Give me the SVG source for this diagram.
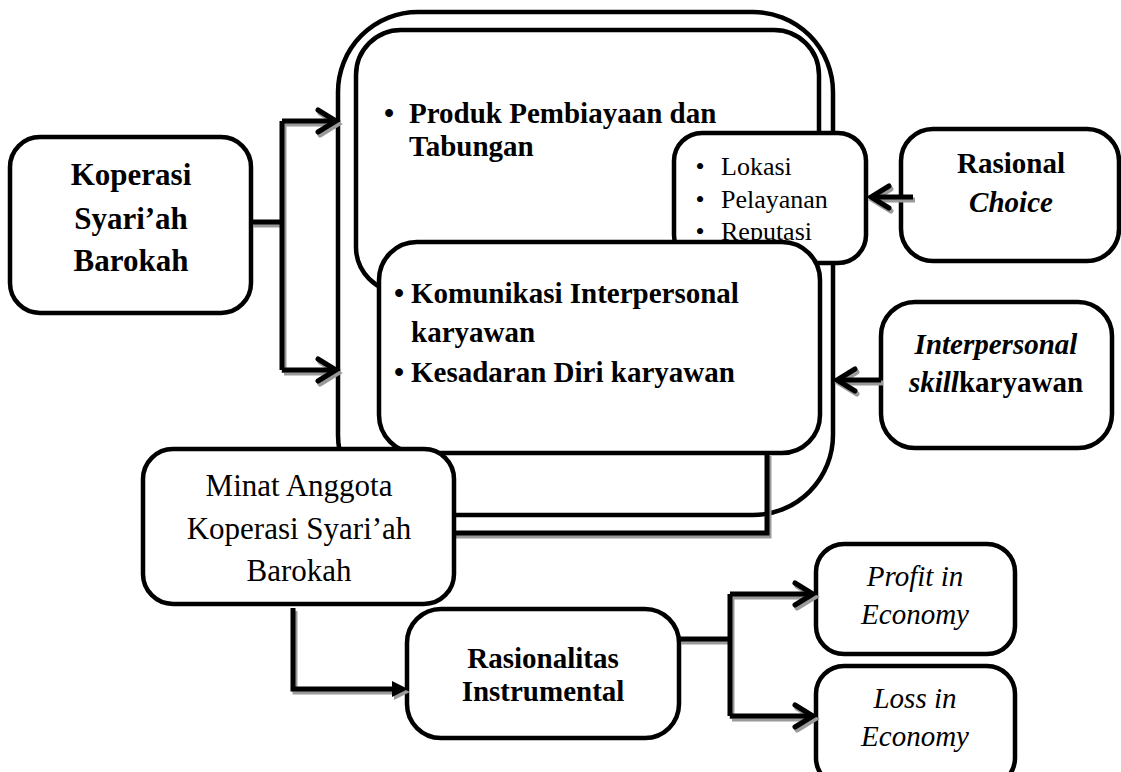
<svg xmlns="http://www.w3.org/2000/svg" xmlns:xlink="http://www.w3.org/1999/xlink" width="1121" height="772" viewBox="0 0 1121 772">
<style>
.box{fill:#fff;stroke:#000;stroke-width:4.5}
.t{font-family:"Liberation Serif","Times New Roman",serif;fill:#000}
.b{font-weight:bold}
.i{font-style:italic}
.c{text-anchor:middle}
.s29{font-size:29px}
.s31{font-size:31px}
.s26{font-size:26px}
.ln{fill:none;stroke-width:5;stroke-linejoin:miter;stroke-linecap:butt}
.hd{fill:none;stroke-width:5;stroke-linejoin:miter;stroke-linecap:round}
</style>
<defs>
<g id="conn-shape">
<path class="ln" d="M251,222 H282 M282,121 V370 M282,121 H334 M282,370 H334"/>
<path class="hd" d="M318,110 L336,121 L318,132 M318,359 L336,370 L318,381"/>
<path class="ln" d="M913,197 H874"/>
<path class="hd" d="M889,186 L871,197 L889,208"/>
<path class="ln" d="M881,380 H840"/>
<path class="hd" d="M855,369 L837,380 L855,391"/>
<path class="ln" d="M293,608 V689 H395"/>
<path d="M392,681 L408,689 L392,697 Z" fill="currentColor" stroke="none"/>
<path class="ln" d="M679,639 H730 M730,594 V716 M730,594 H810 M730,716 H810"/>
<path class="hd" d="M795,583 L813,594 L795,605 M795,705 L813,716 L795,727"/>
</g>
</defs>

<g id="outer-frame">
<rect class="box" x="338" y="12" width="495" height="503" rx="80" ry="80"/>
</g>
<g id="frame-line">
<path class="ln" d="M769,456 V536 H454" stroke="#9a9a9a"/>
<path class="ln" d="M767,453 V533 H454" stroke="#000"/>
</g>
<g id="produk">
<rect class="box" x="356" y="30" width="463" height="262" rx="45" ry="45"/>
<text class="t b s29 c" x="389" y="123">•</text>
<text class="t b s29" x="409" y="123">Produk Pembiayaan dan</text>
<text class="t b s29" x="409" y="156">Tabungan</text>
</g>
<g id="lokasi">
<rect class="box" x="674" y="133" width="192" height="130" rx="28" ry="28"/>
<text class="t s26 c" x="700" y="175">•</text>
<text class="t s26" x="721" y="175">Lokasi</text>
<text class="t s26 c" x="700" y="208">•</text>
<text class="t s26" x="721" y="208">Pelayanan</text>
<text class="t s26 c" x="700" y="240">•</text>
<text class="t s26" x="721" y="240">Reputasi</text>
</g>
<g id="komunikasi">
<rect class="box" x="379" y="242" width="441" height="211" rx="38" ry="38"/>
<text class="t b s29 c" x="399" y="303">•</text>
<text class="t b s29" x="411" y="303">Komunikasi Interpersonal</text>
<text class="t b s29" x="411" y="342">karyawan</text>
<text class="t b s29 c" x="399" y="382">•</text>
<text class="t b s29" x="411" y="382">Kesadaran Diri karyawan</text>
</g>
<g id="koperasi">
<rect class="box" x="10" y="137" width="241" height="176" rx="30" ry="30"/>
<text class="t b s31 c" x="131" y="185">Koperasi</text>
<text class="t b s31 c" x="131" y="229">Syari’ah</text>
<text class="t b s31 c" x="131" y="271">Barokah</text>
</g>
<g id="rasional">
<rect class="box" x="901" y="129" width="218" height="132" rx="32" ry="32"/>
<text class="t b s29 c" x="1011" y="173">Rasional</text>
<text class="t b i s29 c" x="1011" y="212">Choice</text>
</g>
<g id="interpersonal">
<rect class="box" x="881" y="302" width="231" height="146" rx="34" ry="34"/>
<text class="t b i s29 c" x="996" y="354">Interpersonal</text>
<text class="t b s29 c" x="996" y="392"><tspan class="i">skill</tspan>karyawan</text>
</g>
<g id="minat">
<rect class="box" x="143" y="449" width="311" height="155" rx="30" ry="30"/>
<text class="t s31 c" x="299" y="496">Minat Anggota</text>
<text class="t s31 c" x="299" y="539">Koperasi Syari’ah</text>
<text class="t s31 c" x="299" y="581">Barokah</text>
</g>
<g id="rasionalitas">
<rect class="box" x="407" y="609" width="272" height="129" rx="34" ry="34"/>
<text class="t b s29 c" x="543" y="668">Rasionalitas</text>
<text class="t b s29 c" x="543" y="701">Instrumental</text>
</g>
<g id="profit">
<rect class="box" x="816" y="544" width="199" height="110" rx="28" ry="28"/>
<text class="t i s29 c" x="915" y="586">Profit in</text>
<text class="t i s29 c" x="915" y="624">Economy</text>
</g>
<g id="loss">
<rect class="box" x="816" y="666" width="199" height="120" rx="28" ry="28"/>
<text class="t i s29 c" x="915" y="708">Loss in</text>
<text class="t i s29 c" x="915" y="746">Economy</text>
</g>

<g id="connectors">
<use xlink:href="#conn-shape" transform="translate(2,3)" stroke="#9a9a9a" color="#9a9a9a"/>
<use xlink:href="#conn-shape" stroke="#000" color="#000"/>
</g>
</svg>
